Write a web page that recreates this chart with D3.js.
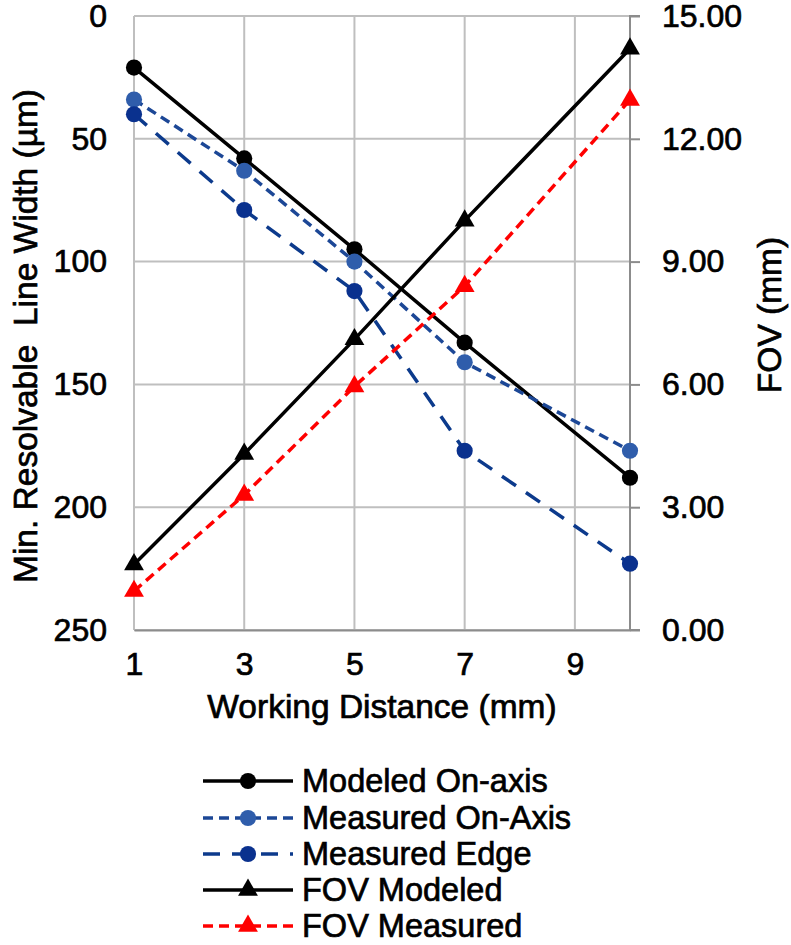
<!DOCTYPE html>
<html><head><meta charset="utf-8">
<script src="https://cdn.jsdelivr.net/npm/d3@7"></script>
<style>body{margin:0;background:#fff}svg{display:block;font-family:Arial,"Liberation Sans",sans-serif}
text{stroke:#000;stroke-width:0.7px;fill:#000}</style>
</head><body><svg id="c" width="791" height="945"></svg>
<script>
const workingDistance = [1, 3, 5, 7, 10];
const modeledOnAxis = [21, 58, 95, 133, 188];
const measuredOnAxis = [34, 63, 100, 141, 177];
const measuredEdge = [40, 79, 112, 177, 223];
const fovModeled = [1.6, 4.3, 7.1, 10.0, 14.2];
const fovMeasured = [0.95, 3.3, 5.95, 8.4, 12.95];
const xTicks = [1, 3, 5, 7, 9];
const leftTicks = [0, 50, 100, 150, 200, 250];
const rightTicks = [0, 3, 6, 9, 12, 15];
const seriesNames = ["Modeled On-axis", "Measured On-Axis", "Measured Edge", "FOV Modeled", "FOV Measured"];

const svg = d3.select("#c");
const L = 134, R = 630, T = 16, B = 630;
const x = d3.scaleLinear().domain([1, 10]).range([L, R]);
const yL = d3.scaleLinear().domain([0, 250]).range([T, B]);
const yR = d3.scaleLinear().domain([0, 15]).range([B, T]);
const FS = 32;
const FF = "Arial, Liberation Sans, sans-serif";

// gridlines
const g = svg.append("g");
g.selectAll(".hg").data(leftTicks).join("line")
  .attr("x1", L).attr("x2", R).attr("y1", d => yL(d)).attr("y2", d => yL(d))
  .attr("stroke", "#bfbfbf").attr("stroke-width", 2);
g.selectAll(".vg").data(xTicks).join("line")
  .attr("x1", d => x(d)).attr("x2", d => x(d)).attr("y1", T).attr("y2", B)
  .attr("stroke", "#bfbfbf").attr("stroke-width", 2);

// axes
const bottomAxis = d3.axisBottom(x).tickValues(xTicks).tickSize(0).tickPadding(22).tickFormat(d3.format("d"));
const ax = svg.append("g").attr("transform", `translate(0,${B})`).call(bottomAxis);
ax.select(".domain").attr("stroke", "#8c8c8c").attr("stroke-width", 2);
ax.selectAll("text").attr("font-size", FS).attr("font-family", FF);

const leftAxis = d3.axisLeft(yL).tickValues(leftTicks).tickSize(0).tickPadding(27);
const al = svg.append("g").attr("transform", `translate(${L},0)`).call(leftAxis);
al.select(".domain").remove();
al.selectAll("text").attr("font-size", FS).attr("font-family", FF);

const rightAxis = d3.axisRight(yR).tickValues(rightTicks).tickSize(10).tickPadding(22).tickFormat(d3.format(".2f"));
const ar = svg.append("g").attr("transform", `translate(${R},0)`).call(rightAxis);
ar.select(".domain").attr("stroke", "#8c8c8c").attr("stroke-width", 2).attr("d", `M10,${T}H0V${B}H10`);
ar.selectAll(".tick line").attr("stroke", "#8c8c8c").attr("stroke-width", 2);
ar.selectAll("text").attr("font-size", FS).attr("font-family", FF);

// titles
svg.append("text").attr("x", 382).attr("y", 718).attr("text-anchor", "middle")
  .attr("font-size", 33.5).text("Working Distance (mm)");
svg.append("text").attr("transform", `translate(37,336) rotate(-90)`).attr("text-anchor", "middle")
  .attr("font-size", 33.5).style("white-space", "pre").text("Min. Resolvable  Line Width (µm)");
svg.append("text").attr("transform", `translate(781,315) rotate(-90)`).attr("text-anchor", "middle")
  .attr("font-size", 33.5).text("FOV (mm)");

// series
const series = [
  {name: seriesNames[0], vals: modeledOnAxis, y: yL, stroke: "#000", dash: null, mark: "circle", fill: "#000"},
  {name: seriesNames[1], vals: measuredOnAxis, y: yL, stroke: "#1c4796", dash: "10,6", mark: "circle", fill: "#2f5dab"},
  {name: seriesNames[2], vals: measuredEdge, y: yL, stroke: "#0c3a8c", dash: "17,12", mark: "circle", fill: "#0a318e"},
  {name: seriesNames[3], vals: fovModeled, y: yR, stroke: "#000", dash: null, mark: "tri", fill: "#000"},
  {name: seriesNames[4], vals: fovMeasured, y: yR, stroke: "#ff0000", dash: "10,6", mark: "tri", fill: "#ff0000"}
];
const circ = d3.symbol().type(d3.symbolCircle).size(205);
const tri = d3.symbol().type(d3.symbolTriangle).size(170);

series.forEach(s => {
  const pts = workingDistance.map((w, i) => [w, s.vals[i]]);
  svg.append("path").datum(pts)
    .attr("d", d3.line().x(d => x(d[0])).y(d => s.y(d[1])))
    .attr("fill", "none").attr("stroke", s.stroke).attr("stroke-width", 3.5)
    .attr("stroke-dasharray", s.dash);
  svg.selectAll(null).data(pts).join("path")
    .attr("transform", d => `translate(${x(d[0])},${s.y(d[1])})`)
    .attr("d", s.mark === "circle" ? circ : tri).attr("fill", s.fill);
});

// legend
const legY = [781, 818, 854, 890, 926];
series.forEach((s, i) => {
  const lg = svg.append("g").attr("transform", `translate(0,${legY[i]})`);
  lg.append("line").attr("x1", 203).attr("x2", 293).attr("y1", 0).attr("y2", 0)
    .attr("stroke", s.stroke).attr("stroke-width", 3.5).attr("stroke-dasharray", s.dash);
  lg.append("path").attr("transform", "translate(248,0)").attr("d", s.mark === "circle" ? circ : tri).attr("fill", s.fill);
  lg.append("text").attr("x", 302).attr("y", 0).attr("dy", "0.35em").attr("font-size", 32.5).text(s.name);
});
</script></body></html>
